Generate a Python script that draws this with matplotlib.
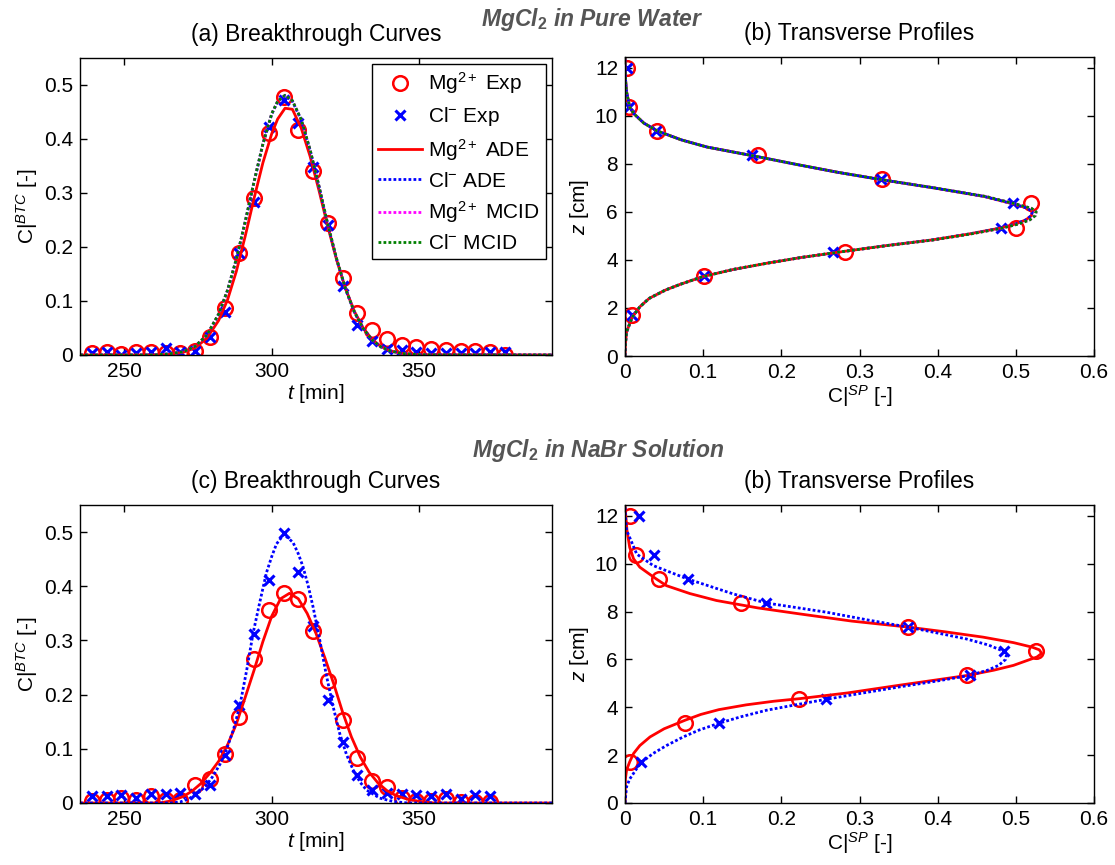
import matplotlib
matplotlib.use("Agg")
import matplotlib.pyplot as plt

plt.rcParams['font.family'] = ['Liberation Sans', 'DejaVu Sans']
plt.rcParams['mathtext.fontset'] = 'custom'
plt.rcParams['mathtext.rm'] = 'Liberation Sans'
plt.rcParams['mathtext.it'] = 'Liberation Sans:italic'
plt.rcParams['mathtext.bf'] = 'Liberation Sans:bold'

# ---------------- breakthrough curves (BTC) ----------------
# experimental sampling times [min]
t_exp_a = [239, 244, 249, 254, 259, 264, 269, 274, 279, 284, 289, 294, 299, 304,
           309, 314, 319, 324, 329, 334, 339, 344, 349, 354, 359, 364, 369, 374, 379]
mg_exp_a = [0.004, 0.005, 0.002, 0.006, 0.005, 0.004, 0.003, 0.008, 0.033, 0.087,
            0.188, 0.290, 0.411, 0.477, 0.417, 0.341, 0.244, 0.143, 0.077, 0.046,
            0.029, 0.019, 0.015, 0.012, 0.010, 0.007, 0.007, 0.005, 0.000]
cl_exp_a = [0.003, 0.005, 0.000, 0.004, 0.005, 0.013, 0.005, 0.007, 0.033, 0.080,
            0.188, 0.284, 0.423, 0.472, 0.429, 0.349, 0.240, 0.127, 0.056, 0.025,
            0.012, 0.009, 0.006, 0.004, 0.003, 0.004, 0.003, 0.006, 0.006]

t_mod_a = [235, 260, 265, 270, 274, 278, 282, 285, 288, 291, 294, 297, 300, 302,
           304.5, 307, 310, 313, 316, 319, 322, 325, 328, 331, 334, 337, 340, 344, 350, 395]
mg_ade_a = [0, 0, 0.001, 0.005, 0.013, 0.031, 0.064, 0.102, 0.155, 0.220, 0.290,
            0.356, 0.410, 0.437, 0.457, 0.455, 0.420, 0.368, 0.305, 0.238, 0.176,
            0.123, 0.081, 0.050, 0.029, 0.016, 0.008, 0.003, 0.0005, 0]
cl_ade_a = [0, 0, 0.002, 0.006, 0.016, 0.036, 0.075, 0.119, 0.177, 0.246, 0.320,
            0.390, 0.446, 0.469, 0.480, 0.470, 0.435, 0.379, 0.312, 0.241, 0.177,
            0.122, 0.079, 0.049, 0.028, 0.015, 0.008, 0.003, 0.0005, 0]
mcid_a = [0, 0, 0.002, 0.006, 0.016, 0.037, 0.076, 0.120, 0.178, 0.247, 0.321,
          0.391, 0.447, 0.470, 0.481, 0.471, 0.436, 0.380, 0.313, 0.242, 0.178,
          0.123, 0.080, 0.049, 0.028, 0.015, 0.008, 0.003, 0.0005, 0]

t_exp_c = [239, 244, 249, 254, 259, 264, 269, 274, 279, 284, 289, 294, 299, 304,
           309, 314, 319, 324, 329, 334, 339, 344, 349, 354, 359, 364, 369, 374]
mg_exp_c = [0.003, 0.005, 0.009, 0.006, 0.013, 0.005, 0.006, 0.033, 0.044, 0.091,
            0.158, 0.265, 0.357, 0.388, 0.376, 0.317, 0.225, 0.154, 0.083, 0.041,
            0.030, 0.009, 0.003, 0.003, 0.008, 0.002, 0.001, 0.001]
cl_exp_c = [0.012, 0.012, 0.015, 0.009, 0.017, 0.017, 0.018, 0.016, 0.033, 0.089,
            0.181, 0.312, 0.412, 0.499, 0.427, 0.327, 0.191, 0.112, 0.051, 0.024,
            0.018, 0.016, 0.015, 0.013, 0.016, 0.008, 0.014, 0.013]

t_mg_c = [235, 262, 266, 270, 273, 276, 279, 282, 285, 288, 291, 294, 297, 300, 303,
          306, 309, 312, 315, 318, 321, 324, 327, 330, 333, 336, 339, 342, 346, 350, 355, 395]
mg_ade_c = [0, 0, 0.004, 0.012, 0.022, 0.036, 0.055, 0.077, 0.107, 0.146, 0.195,
            0.245, 0.298, 0.345, 0.377, 0.387, 0.377, 0.350, 0.313, 0.268, 0.220,
            0.168, 0.122, 0.085, 0.057, 0.037, 0.023, 0.014, 0.007, 0.003, 0, 0]
t_cl_c = [235, 266, 269, 272, 275.6, 278, 280, 282.5, 284.6, 287, 289.2, 291.5, 293.7,
          296, 298.2, 300, 301.6, 304.1, 307.2, 309, 310.6, 312.3, 314, 316.3, 318.5,
          320.8, 323, 325.3, 327.6, 330, 332.1, 336.6, 341, 346, 395]
cl_ade_c = [0, 0, 0.002, 0.008, 0.021, 0.034, 0.049, 0.072, 0.098, 0.135, 0.180,
            0.245, 0.314, 0.372, 0.425, 0.455, 0.478, 0.496, 0.481, 0.460, 0.436,
            0.402, 0.362, 0.300, 0.236, 0.178, 0.129, 0.090, 0.061, 0.038, 0.024,
            0.009, 0.003, 0, 0]

# ---------------- transverse profiles (SP) ----------------
z_exp = [12, 10.35, 9.35, 8.35, 7.35, 6.35, 5.33, 4.33, 3.33, 1.7]
mg_exp_b = [0.003, 0.0055, 0.041, 0.170, 0.329, 0.519, 0.500, 0.281, 0.101, 0.0094]
cl_exp_b = [0.003, 0.0055, 0.040, 0.162, 0.327, 0.497, 0.481, 0.266, 0.101, 0.0094]
mg_exp_d = [0.007, 0.014, 0.044, 0.148, 0.362, 0.526, 0.438, 0.223, 0.077, 0.007]
cl_exp_d = [0.018, 0.037, 0.080, 0.180, 0.362, 0.485, 0.441, 0.257, 0.120, 0.020]

z_mod_b = [0, 0.5, 1.0, 1.6, 2.05, 2.4, 2.75, 3.0, 3.31, 3.6, 3.86, 4.1, 4.35, 4.6,
           4.83, 5.08, 5.32, 5.5, 5.67, 5.85, 6.0, 6.15, 6.33, 6.64, 7.0, 7.33, 7.65,
           7.96, 8.33, 8.7, 9.0, 9.375, 9.7, 10.1, 10.36, 11.0, 11.5, 12.0, 12.45]
ade_b = [0, 0.0005, 0.002, 0.009, 0.019, 0.031, 0.052, 0.072, 0.100, 0.138, 0.181,
         0.225, 0.279, 0.335, 0.392, 0.440, 0.479, 0.500, 0.513, 0.520, 0.521, 0.515,
         0.497, 0.460, 0.395, 0.330, 0.272, 0.222, 0.165, 0.105, 0.072, 0.041, 0.024,
         0.011, 0.006, 0.002, 0.0007, 0.0002, 0]
mcid_b = [0, 0.0005, 0.002, 0.009, 0.019, 0.031, 0.052, 0.072, 0.100, 0.138, 0.181,
          0.225, 0.279, 0.336, 0.394, 0.442, 0.482, 0.504, 0.518, 0.525, 0.526, 0.520,
          0.500, 0.462, 0.396, 0.331, 0.272, 0.222, 0.165, 0.105, 0.072, 0.041, 0.024,
          0.011, 0.006, 0.002, 0.0007, 0.0002, 0]

z_mg_d = [0, 1.0, 1.375, 1.72, 2.07, 2.4, 2.76, 3.1, 3.46, 3.7, 3.9, 4.1, 4.25, 4.36,
          4.6, 4.92, 5.15, 5.33, 5.55, 5.75, 5.96, 6.1, 6.25, 6.4, 6.51, 6.7, 6.93, 7.15,
          7.35, 7.6, 7.9, 8.15, 8.46, 8.75, 9.08, 9.36, 9.85, 10.2, 10.68, 11.375, 12.0, 12.45]
mg_ade_d = [0, 0.0005, 0.002, 0.006, 0.011, 0.019, 0.032, 0.050, 0.077, 0.097, 0.120,
            0.155, 0.190, 0.2235, 0.285, 0.351, 0.400, 0.438, 0.472, 0.497, 0.515, 0.527,
            0.533, 0.530, 0.521, 0.497, 0.458, 0.410, 0.362, 0.290, 0.2235, 0.170,
            0.117, 0.083, 0.053, 0.040, 0.019, 0.011, 0.006, 0.0026, 0.001, 0]
z_cl_d = [0, 0.68, 1.0, 1.44, 1.72, 2.07, 2.4, 2.76, 3.05, 3.33, 3.6, 3.875, 4.1, 4.33,
          4.6, 4.85, 5.1, 5.33, 5.55, 5.75, 6.0, 6.2, 6.33, 6.6, 6.86, 7.1, 7.35, 7.65,
          7.97, 8.36, 8.74, 9.36, 9.92, 10.4, 11.4, 12.0, 12.45]
cl_ade_d = [0, 0.002, 0.006, 0.015, 0.022, 0.036, 0.053, 0.0745, 0.095, 0.120, 0.148,
            0.181, 0.218, 0.257, 0.305, 0.351, 0.400, 0.441, 0.464, 0.478, 0.487, 0.488,
            0.485, 0.465, 0.436, 0.400, 0.362, 0.310, 0.258, 0.180, 0.138, 0.080, 0.036,
            0.015, 0.002, 0.0005, 0]

labels = [r"Mg$^{2+}$ Exp", r"Cl$^{-}$ Exp", r"Mg$^{2+}$ ADE", r"Cl$^{-}$ ADE",
          r"Mg$^{2+}$ MCID", r"Cl$^{-}$ MCID"]

FS = 15
dot = (0, (1, 0.8))
circ = dict(ls='none', marker='o', ms=10.5, mfc='none', mec='red', mew=1.8)
cross = dict(ls='none', marker='x', ms=7.5, mec='blue', mew=2.2)

W, H = 1115, 865
fig = plt.figure(figsize=(W / 100, H / 100), dpi=100)
ax_a = fig.add_axes([80 / W, 1 - 355 / H, 472 / W, 297 / H])
ax_b = fig.add_axes([625 / W, 1 - 356 / H, 469 / W, 299 / H])
ax_c = fig.add_axes([80 / W, 1 - 803 / H, 472 / W, 298 / H])
ax_d = fig.add_axes([625 / W, 1 - 803 / H, 469 / W, 298 / H])

# (a)
ax_a.plot(t_exp_a, mg_exp_a, **circ)
ax_a.plot(t_exp_a, cl_exp_a, **cross)
ax_a.plot(t_mod_a, mg_ade_a, color='red', lw=2)
ax_a.plot(t_mod_a, cl_ade_a, color='blue', lw=2, ls=dot)
ax_a.plot(t_mod_a, mcid_a, color='magenta', lw=2, ls=dot)
ax_a.plot(t_mod_a, mcid_a, color='green', lw=2, ls=dot)
leg = ax_a.legend(labels, loc='upper right', fontsize=FS, frameon=True, fancybox=False,
                  edgecolor='black', framealpha=1, handlelength=2.1, labelspacing=0.42,
                  borderaxespad=0.3, handletextpad=0.3, borderpad=0.3)
leg.get_frame().set_linewidth(1.0)

# (c)
ax_c.plot(t_exp_c, mg_exp_c, **circ)
ax_c.plot(t_exp_c, cl_exp_c, **cross)
ax_c.plot(t_mg_c, mg_ade_c, color='red', lw=2)
ax_c.plot(t_cl_c, cl_ade_c, color='blue', lw=2, ls=dot)

# (b)
ax_b.plot(mg_exp_b, z_exp, **circ)
ax_b.plot(cl_exp_b, z_exp, **cross)
ax_b.plot(ade_b, z_mod_b, color='red', lw=2)
ax_b.plot(ade_b, z_mod_b, color='blue', lw=2, ls=dot)
ax_b.plot(mcid_b, z_mod_b, color='magenta', lw=2, ls=dot)
ax_b.plot(mcid_b, z_mod_b, color='green', lw=2, ls=dot)

# (d)
ax_d.plot(mg_exp_d, z_exp, **circ)
ax_d.plot(cl_exp_d, z_exp, **cross)
ax_d.plot(mg_ade_d, z_mg_d, color='red', lw=2)
ax_d.plot(cl_ade_d, z_cl_d, color='blue', lw=2, ls=dot)

for ax, title in [(ax_a, "(a) Breakthrough Curves"), (ax_c, "(c) Breakthrough Curves")]:
    ax.set_xlim(235, 395)
    ax.set_ylim(0, 0.55)
    ax.set_xticks([250, 300, 350])
    ax.set_yticks([0, 0.1, 0.2, 0.3, 0.4, 0.5])
    ax.set_yticklabels(["0", "0.1", "0.2", "0.3", "0.4", "0.5"])
    ax.set_xlabel(r"$\mathit{t}$ [min]", fontsize=FS, labelpad=1)
    ax.set_ylabel(r"C|$^{\mathit{BTC}}$ [-]", fontsize=FS, labelpad=3)
    ax.set_title(title, fontsize=FS + 1.5, pad=12)

for ax in (ax_b, ax_d):
    ax.set_xlim(0, 0.6)
    ax.set_ylim(0, 12.45)
    ax.set_xticks([0, 0.1, 0.2, 0.3, 0.4, 0.5, 0.6])
    ax.set_xticklabels(["0", "0.1", "0.2", "0.3", "0.4", "0.5", "0.6"])
    ax.set_yticks([0, 2, 4, 6, 8, 10, 12])
    ax.set_xlabel(r"C|$^{\mathit{SP}}$ [-]", fontsize=FS, labelpad=1)
    ax.set_ylabel(r"$\mathit{z}$ [cm]", fontsize=FS, labelpad=3)
    ax.set_title("(b) Transverse Profiles", fontsize=FS + 1.5, pad=12)

for ax in (ax_a, ax_b, ax_c, ax_d):
    ax.tick_params(direction='in', top=True, right=True, length=5, width=1,
                   labelsize=FS, pad=5)
    for s in ax.spines.values():
        s.set_linewidth(1.0)

fig.text(0.531, 0.978, r"MgCl$_{\mathbf{2}}$ in Pure Water", ha='center', va='center',
         fontsize=16.5, fontweight='bold', style='italic', color='#555555')
fig.text(0.536, 0.479, r"MgCl$_{\mathbf{2}}$ in NaBr Solution", ha='center', va='center',
         fontsize=16.5, fontweight='bold', style='italic', color='#555555')

fig.savefig("out.png", dpi=100)
